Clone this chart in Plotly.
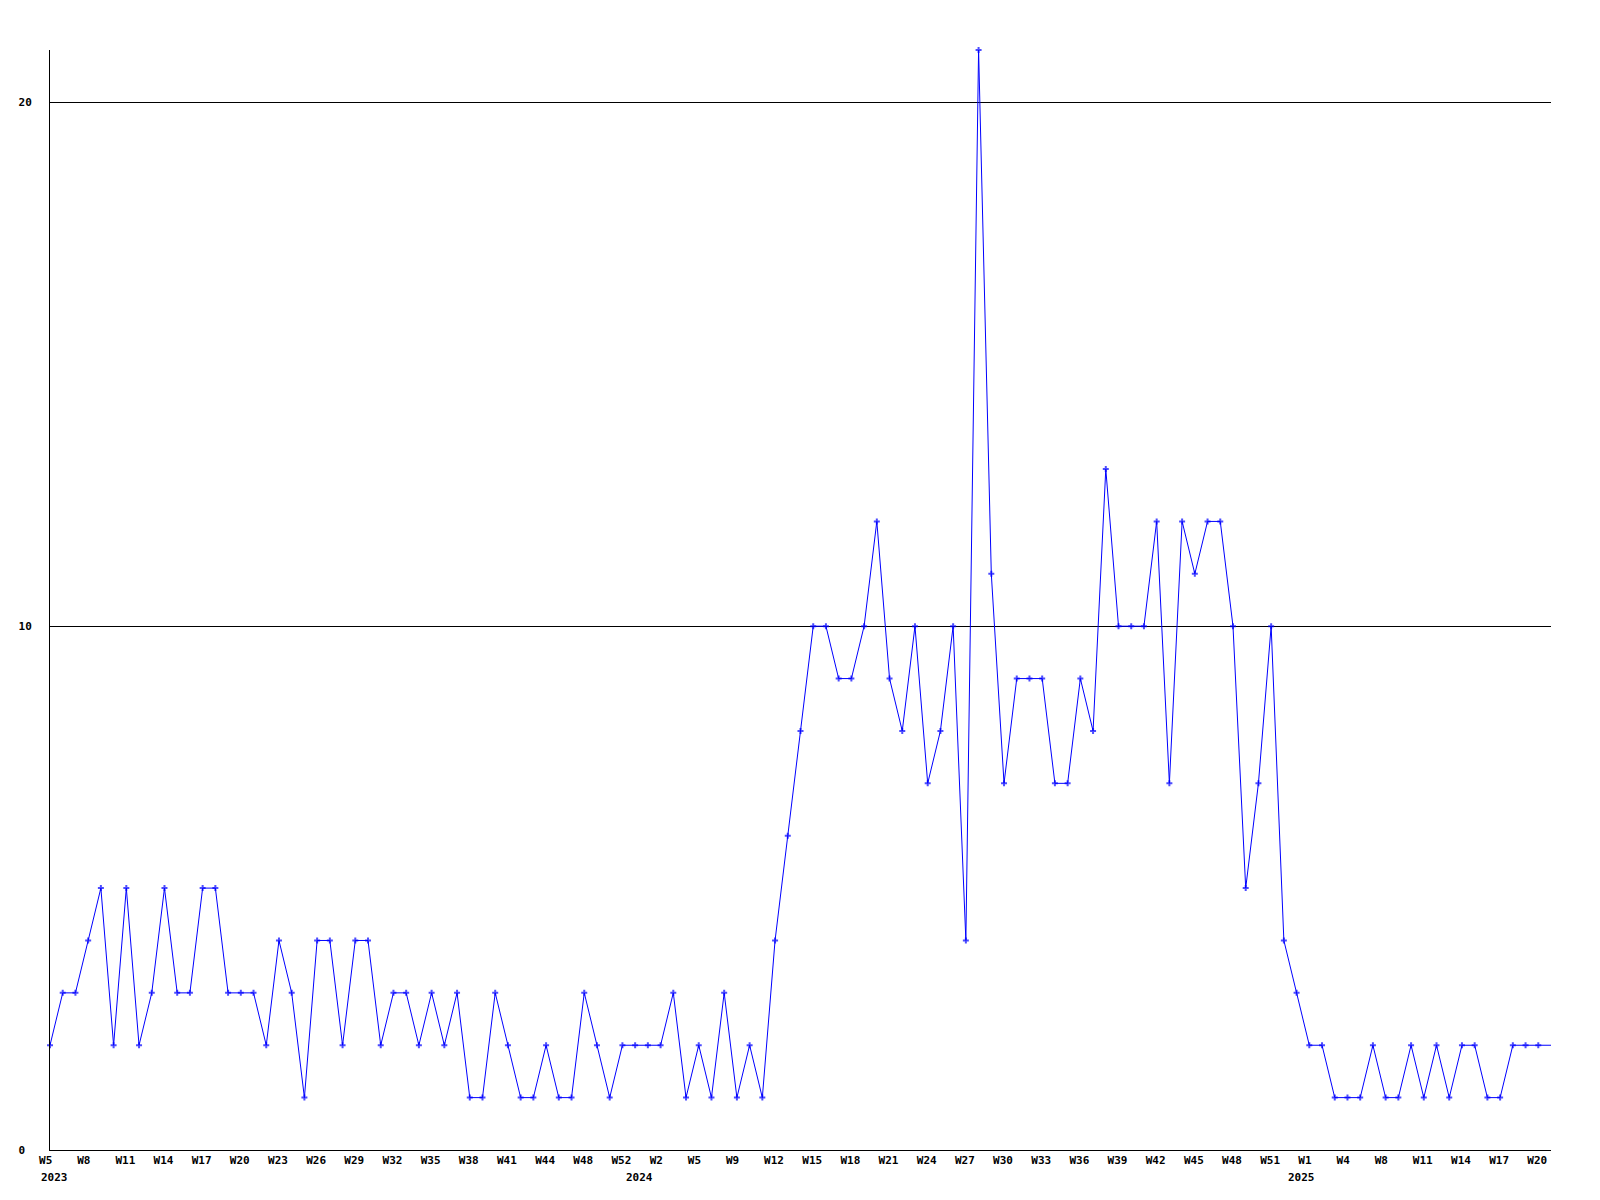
import plotly.graph_objects as go

# Weekly values, 2023 W5 .. 2025 W20 (one value per plotted point)
values_2023 = [2, 3, 3, 4, 5, 2, 5, 2, 3, 5, 3, 3, 5, 5, 3, 3, 3, 2, 4, 3, 1, 4, 4, 2, 4, 4, 2, 3, 3, 2,
               3, 2, 3, 1, 1, 3, 2, 1, 1, 2, 1, 1, 3, 2, 1, 2]
values_2024 = [2, 2, 2, 3, 1, 2, 1, 3, 1, 2, 1,
               4, 6, 8, 10, 10, 9, 9, 10, 12, 9, 8, 10, 7, 8, 10, 4, 21,
               11, 7, 9, 9, 9, 7, 7, 9, 8, 13, 10, 10, 10, 12, 7, 12, 11, 12, 12, 10, 5, 7, 10, 4, 3]
values_2025 = [2, 2, 1, 1, 1, 2, 1, 1, 2, 1, 2, 1, 2, 2, 1, 1, 2, 2, 2, 2]

# Tick labels, one every third point
tick_labels = ["W5", "W8", "W11", "W14", "W17", "W20", "W23", "W26", "W29", "W32",
               "W35", "W38", "W41", "W44", "W48", "W52", "W2", "W5", "W9", "W12",
               "W15", "W18", "W21", "W24", "W27", "W30", "W33", "W36", "W39", "W42",
               "W45", "W48", "W51", "W1", "W4", "W8", "W11", "W14", "W17", "W20"]
tick_step = 3

# Year labels and the point index they sit under
year_labels = ["2023", "2024", "2025"]
year_positions = [0, 46, 98]

y_ticks = [0, 10, 20]

values = values_2023 + values_2024 + values_2025
x = list(range(len(values)))

FONT = dict(family="DejaVu Sans Mono", size=11, color="black", weight="bold")
BLUE = "#0000ff"
NBSP = "\u00a0"

marker_sizes = [5] * (len(values) - 1) + [0]

# Left-aligned look in a monospace font: pad labels to a common width
x_ticktext = [t + NBSP * (3 - len(t)) for t in tick_labels]
y_ticktext = [str(v) + NBSP * (2 - len(str(v))) for v in y_ticks]

fig = go.Figure()
fig.add_trace(go.Scatter(
    x=x, y=values, mode="lines+markers",
    line=dict(color=BLUE, width=1),
    marker=dict(symbol="cross", size=marker_sizes, color=BLUE, line=dict(width=0)),
    cliponaxis=False,
    showlegend=False,
    hoverinfo="x+y",
))

for lab, pos in zip(year_labels, year_positions):
    fig.add_annotation(
        x=pos, y=0, xref="x", yref="paper", text=lab, showarrow=False,
        xanchor="left", yanchor="top", xshift=-11, yshift=-19, font=FONT,
    )

fig.update_layout(
    width=1600, height=1200, autosize=False,
    margin=dict(l=50, r=49, t=50, b=50),
    paper_bgcolor="white", plot_bgcolor="white",
    showlegend=False,
)
fig.update_xaxes(
    range=[0, len(values) - 1],
    tickmode="array",
    tickvals=list(range(0, len(tick_labels) * tick_step, tick_step)),
    ticktext=x_ticktext,
    showgrid=False, zeroline=False,
    showline=True, linecolor="black", linewidth=1,
    ticks="", tickfont=FONT, tickangle=0, ticklabelshift=-1,
)
fig.update_yaxes(
    range=[0, 21],
    tickmode="array",
    tickvals=y_ticks,
    ticktext=y_ticktext,
    showgrid=True, gridcolor="black", gridwidth=1,
    zeroline=False,
    showline=True, linecolor="black", linewidth=1,
    ticks="", tickfont=FONT, ticklabelstandoff=15,
)

fig.write_html("out.html", include_plotlyjs=True, full_html=True,
               config={"displayModeBar": False},
               post_script="document.body.style.margin='0';")
